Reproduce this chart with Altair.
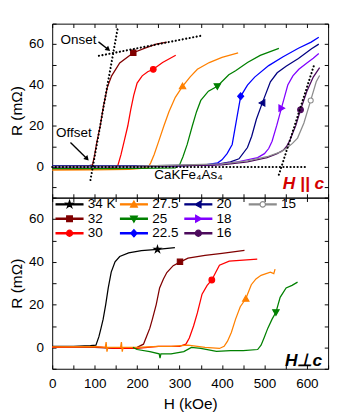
import altair as alt
import pandas as pd

# ---------------- data ----------------
TEMPS = ["34", "32", "30", "27.5", "25", "22.5", "20", "18", "16", "15"]
LEG_LABELS = ["34 K", "32", "30", "27.5", "25", "22.5", "20", "18", "16", "15"]
LEG_COLUMNS = [[0, 1, 2], [3, 4, 5], [6, 7, 8], [9]]   # legend entries per column
LINE_COLORS = ["#000000", "#800000", "#ff0000", "#ff8000", "#008000",
               "#0000ff", "#000080", "#8000ff", "#4c0a5c", "#8c8c8c"]
FILL_COLORS = ["#000000", "#800000", "#ff0000", "#ff8000", "#008000",
               "#0000ff", "#000080", "#8000ff", "#4c0a5c", "#ffffff"]

# ---- top panel: H || c ----
top_32_H = [0, 50, 85, 95, 100, 105, 113, 121, 130, 140, 159, 191, 220, 245, 270]
top_32_R = [0.3, 0.4, 0.5, 1, 6, 12, 20, 30, 39, 44.5, 50.8, 55.8, 58.2, 60, 61]
top_30_H = [0, 60, 120, 150, 155, 162, 170, 178, 185, 192, 200, 212, 225, 238, 260, 291]
top_30_R = [-1, -1.2, -0.8, -0.5, 1, 6, 13, 20, 28, 35, 41, 44.5, 46.5, 47.7, 51, 54.6]
top_27_H = [0, 100, 180, 225, 232, 240, 250, 263, 275, 290, 307, 325, 342, 370, 400, 438]
top_27_R = [-1.5, -1.4, -1.2, -0.5, 2, 6, 12, 20, 27, 34, 39.4, 44, 47.7, 51, 53.5, 55.7]
top_25_H = [0, 150, 250, 290, 300, 308, 318, 330, 340, 350, 368, 389, 416, 432, 460, 490, 534]
top_25_R = [-0.8, -0.8, -0.6, -0.5, 1, 5, 11, 20, 27, 32.5, 37, 39.4, 45, 47, 51, 54.5, 57.9]
top_22_H = [0, 150, 300, 360, 390, 400, 412, 424, 435, 444, 460, 477, 510, 544, 580, 610, 628]
top_22_R = [0.5, 0.4, 0.5, 1, 2, 3.5, 6.5, 11, 24, 34.5, 40, 43.9, 49.5, 53.8, 58, 61, 63.4]
top_20_H = [0, 200, 380, 420, 440, 460, 470, 481, 495, 514, 530, 551, 580, 611, 628]
top_20_R = [0.5, 0.5, 1, 2.5, 4, 9.5, 15, 23.3, 31.3, 41.6, 46, 49.2, 53, 57.7, 60]
top_18_H = [0, 200, 380, 432, 484, 500, 510, 518, 529, 540, 547, 555, 567, 581, 600, 615, 628]
top_18_R = [0, 0.2, 1, 2.3, 4.6, 6.5, 9, 12.6, 20.3, 28.7, 34, 40, 44.5, 47.7, 50.8, 53.1, 55.4]
top_16_H = [0, 200, 400, 460, 506, 530, 544, 552, 559, 574, 585, 600, 615, 630]
top_16_R = [0, 0.2, 1, 2.5, 4.6, 6.5, 8.1, 10, 12.6, 20.3, 27.9, 37, 43.9, 48.5]
top_15_H = [0, 200, 400, 460, 506, 540, 555, 566, 578, 593, 609, 622, 630]
top_15_R = [0.3, 0.4, 1.5, 3, 5, 7.5, 9.6, 11.5, 14.1, 21.5, 32.5, 41.6, 44.7]

top_marker_T = ["32", "30", "27.5", "25", "22.5", "20", "18", "16", "15"]
top_marker_H = [191, 238, 307, 389, 444, 495, 540, 585, 609]
top_marker_R = [55.8, 47.7, 39.4, 39.4, 34.5, 31.3, 28.7, 27.9, 32.5]

# ---- bottom panel: H perpendicular to c ----
bot_34_H = [0, 50, 90, 103, 110, 115, 120, 126, 132, 139, 148, 159, 180, 210, 248, 289]
bot_34_R = [0.5, 0.5, 0.8, 1, 5, 9, 13.2, 20, 27.8, 35.2, 40, 42.5, 44.2, 45.2, 45.8, 46.6]
bot_32_H = [0, 100, 150, 200, 215, 222, 230, 236, 245, 253, 262, 270, 285, 302, 320, 360, 400, 453]
bot_32_R = [0.2, 0, -0.5, 0, 1.5, 5, 9, 13.2, 20, 27.8, 32, 35, 38.2, 40, 41.7, 43, 44, 45.4]
bot_30_H = [0, 100, 150, 200, 250, 300, 315, 323, 333, 342, 353, 365, 376, 385, 394, 417, 450, 483]
bot_30_R = [0, 0.3, -0.5, -0.5, 0.5, 0.5, 1.5, 4.4, 10, 16.1, 24.9, 29, 31.5, 35, 38.4, 40.3, 40.8, 41.3]
bot_27_H = [0, 100, 125, 127, 129, 131, 161, 163, 165, 167, 200, 250, 280, 320, 360, 394, 405,
            413, 422, 432, 443, 456, 469, 480, 492, 514, 522, 525]
bot_27_R = [0.2, 0.3, 0, 2.5, -2, 0, 0, 2.5, -2, 0, 0, 0.5, 0.5, 1, 0, -0.5, 0.5,
            2.9, 7, 13.2, 19, 22.7, 29.3, 32, 33.7, 35.2, 34.5, 36.6]
bot_25_H = [190, 200, 230, 252, 254, 256, 280, 310, 328, 350, 387, 420, 450, 484, 492, 499,
            508, 518, 527, 537, 551, 565, 578]
bot_25_R = [0, -1, -2, -3, -5, -3, -3, -2, 0, -0.5, -1.9, -1.5, -1.5, -1, 1, 4.4,
            9, 13.2, 16.4, 23.4, 27.8, 29, 30.5]

bot_marker_T = ["34", "32", "30", "27.5", "25"]
bot_marker_H = [248, 301, 376, 456, 527]
bot_marker_R = [45.8, 40.0, 31.5, 22.7, 16.4]

# guide (fit) lines in the top panel
guide_id = ["onset", "onset", "steep32", "steep32", "offset", "offset", "steep16", "steep16"]
guide_H = [110, 353, 90, 154, 0, 598, 534, 616]
guide_R = [54.3, 64.2, -6.4, 67.5, 0, 0, -3.8, 49.2]

# annotation arrows (top panel)
arrow_id = ["onset", "onset", "offset", "offset"]
arrow_H = [109, 132, 43, 82]
arrow_R = [61.1, 57.4, 11.9, 4.0]
head_H = [132, 82]
head_R = [57.4, 4.0]
head_angle = [129, 137]

anno_text = ["Onset", "Offset", "CaKFe\u2084As\u2084"]
anno_H = [62, 51, 321]
anno_R = [61.8, 16.5, -4.2]

# ---------------- helpers ----------------
def long(series):
    rows = []
    for t, hs, rs in series:
        for h, r in zip(hs, rs):
            rows.append({"T": t, "H": h, "R": r})
    return pd.DataFrame(rows)

top_lines = long([("32", top_32_H, top_32_R), ("30", top_30_H, top_30_R),
                  ("27.5", top_27_H, top_27_R), ("25", top_25_H, top_25_R),
                  ("22.5", top_22_H, top_22_R), ("20", top_20_H, top_20_R),
                  ("18", top_18_H, top_18_R), ("16", top_16_H, top_16_R),
                  ("15", top_15_H, top_15_R)])
bot_lines = long([("34", bot_34_H, bot_34_R), ("32", bot_32_H, bot_32_R),
                  ("30", bot_30_H, bot_30_R), ("27.5", bot_27_H, bot_27_R),
                  ("25", bot_25_H, bot_25_R)])
top_marks = pd.DataFrame({"T": top_marker_T, "H": top_marker_H, "R": top_marker_R})
bot_marks = pd.DataFrame({"T": bot_marker_T, "H": bot_marker_H, "R": bot_marker_R})
guides = pd.DataFrame({"g": guide_id, "H": guide_H, "R": guide_R})
arrows = pd.DataFrame({"g": arrow_id, "H": arrow_H, "R": arrow_R})
heads = pd.DataFrame({"H": head_H, "R": head_R, "a": head_angle})
annos = pd.DataFrame({"text": anno_text, "H": anno_H, "R": anno_R})

STAR = ("M0,-1L0.223,-0.307L0.951,-0.309L0.361,0.117L0.588,0.809L0,0.38"
        "L-0.588,0.809L-0.361,0.117L-0.951,-0.309L-0.223,-0.307Z")
SQUARE = "M-0.75,-0.75H0.75V0.75H-0.75Z"
CIRCLE = "M-0.8,0A0.8,0.8 0 1,0 0.8,0A0.8,0.8 0 1,0 -0.8,0Z"
TUP = "M0,-0.9L0.9,0.7L-0.9,0.7Z"
TDOWN = "M0,0.9L0.9,-0.7L-0.9,-0.7Z"
DIAM = "M0,-0.95L0.85,0L0,0.95L-0.85,0Z"
TLEFT = "M-0.9,0L0.7,-0.9L0.7,0.9Z"
TRIGHT = "M0.9,0L-0.7,-0.9L-0.7,0.9Z"
OCIRC = "M-0.7,0A0.7,0.7 0 1,0 0.7,0A0.7,0.7 0 1,0 -0.7,0Z"
MARKERS = [STAR, SQUARE, CIRCLE, TUP, TDOWN, DIAM, TLEFT, TRIGHT, CIRCLE, OCIRC]

# legend symbols: a short line (thin filled bar) through the marker
BAR = "M-3.5,-0.16L3.5,-0.16L3.5,0.16L-3.5,0.16Z"
leg_shape = [BAR + m for m in MARKERS[:9]]
leg_shape.append("M-3.5,-0.12L-0.7,-0.12L-0.7,0.12L-3.5,0.12Z"
                 "M0.7,-0.12L3.5,-0.12L3.5,0.12L0.7,0.12Z" + OCIRC)

FONT = "Liberation Sans"
XS = alt.Scale(domain=[0, 650], nice=False, zero=False)
X_VALUES = list(range(0, 651, 50))
TK = 4


def x_axis(orient, labels, title=None):
    return alt.Axis(orient=orient, values=X_VALUES, labels=labels, tickSize=TK, offset=-TK,
                    domain=False, labelPadding=TK + 4, labelFlush=False, labelOverlap=False,
                    labelExpr="datum.value % 100 == 0 ? datum.label : ''",
                    title=title, titlePadding=6, grid=False)


def y_axis(orient, labels, values, title=None):
    return alt.Axis(orient=orient, values=values, labels=labels, tickSize=TK, offset=-TK,
                    domain=False, labelPadding=TK + 5, labelFlush=False, labelOverlap=False,
                    labelExpr="datum.value % 20 == 0 ? datum.label : ''",
                    title=title, titlePadding=4, grid=False)


def panel(lines, marks, ydom, yvals, height, bottom, extra_layers):
    YS = alt.Scale(domain=ydom, nice=False, zero=False)
    line_layer = alt.Chart(lines).mark_line(strokeWidth=1.3).encode(
        x=alt.X("H:Q", scale=XS, axis=x_axis("bottom", bottom, "H (kOe)" if bottom else None)),
        y=alt.Y("R:Q", scale=YS, axis=y_axis("left", True, yvals, "R (m\u03a9)")),
        color=alt.Color("T:N", scale=alt.Scale(domain=TEMPS, range=LINE_COLORS), legend=None),
        order=alt.Order("H:Q"),
    )
    mark_layer = alt.Chart(marks).mark_point(filled=True, size=56, opacity=1, strokeWidth=1.1).encode(
        x=alt.X("H:Q", scale=XS, axis=x_axis("top", False)),
        y=alt.Y("R:Q", scale=YS, axis=y_axis("right", False, yvals)),
        fill=alt.Fill("T:N", scale=alt.Scale(domain=TEMPS, range=FILL_COLORS), legend=None),
        stroke=alt.Stroke("T:N", scale=alt.Scale(domain=TEMPS, range=LINE_COLORS), legend=None),
        shape=alt.Shape("T:N", scale=alt.Scale(domain=TEMPS, range=MARKERS), legend=None),
    )
    layers = [line_layer, mark_layer]
    for l in extra_layers:
        made = l(YS)
        layers.extend(made if isinstance(made, list) else [made])
    return alt.layer(*layers).resolve_scale(
        fill="independent", stroke="independent", shape="independent"
    ).resolve_axis(x="independent", y="independent").properties(width=287, height=height)


def noax(YS):
    return (alt.X("H:Q", scale=XS, axis=None), alt.Y("R:Q", scale=YS, axis=None))


def guide_layer(YS):
    x, y = noax(YS)
    return alt.Chart(guides).mark_line(color="black", strokeWidth=2.2, strokeDash=[0.1, 3.6],
                                       strokeCap="round").encode(x=x, y=y, detail="g:N")


def arrow_layer(YS):
    x, y = noax(YS)
    return alt.Chart(arrows).mark_line(color="black", strokeWidth=1.4).encode(x=x, y=y, detail="g:N")


def head_layer(YS):
    x, y = noax(YS)
    return alt.Chart(heads).mark_point(shape="triangle-up", filled=True, color="black",
                                       size=34, opacity=1).encode(
        x=x, y=y, angle=alt.Angle("a:Q", scale=None))


def anno_layer(YS):
    x, y = noax(YS)
    return alt.Chart(annos).mark_text(font=FONT, fontSize=14, color="black").encode(
        x=x, y=y, text="text:N")


def hc_layer(YS):
    x, y = noax(YS)
    return alt.Chart(pd.DataFrame({"H": [592], "R": [-8.5], "t": ["H || c"]})).mark_text(
        font=FONT, fontSize=18, fontWeight="bold", fontStyle="italic", color="#d40000"
    ).encode(x=x, y=y, text="t:N")


def hperp_layer(YS):
    x, y = noax(YS)
    return alt.Chart(pd.DataFrame({"H": [592], "R": [-6.5], "t": ["H\u22a5c"]})).mark_text(
        font=FONT, fontSize=18, fontWeight="bold", fontStyle="italic", color="black"
    ).encode(x=x, y=y, text="t:N")


def legend_layers(YS):
    out = []
    for c, idx in enumerate(LEG_COLUMNS):
        labels = [LEG_LABELS[i] for i in idx]
        field = "L%d" % c
        df = pd.DataFrame({field: labels})
        out.append(alt.Chart(df).transform_filter("false").mark_point(
            filled=True, opacity=1, size=64).encode(
            fill=alt.Fill(field + ":N", scale=alt.Scale(domain=labels, range=[FILL_COLORS[i] for i in idx]),
                          legend=alt.Legend(
                              orient="none", legendX=11 + 67 * c, legendY=0, direction="vertical",
                              title=None, padding=0, labelFont=FONT, labelFontSize=14,
                              labelColor="black", labelOffset=12, symbolSize=64,
                              symbolStrokeWidth=1.2, rowPadding=1, symbolOpacity=1)),
            stroke=alt.Stroke(field + ":N", scale=alt.Scale(domain=labels, range=[LINE_COLORS[i] for i in idx])),
            shape=alt.Shape(field + ":N", scale=alt.Scale(domain=labels, range=[leg_shape[i] for i in idx])),
        ))
    return out


top = panel(top_lines, top_marks, [-15, 70], list(range(-10, 71, 10)), 181, False,
            [guide_layer, arrow_layer, head_layer, anno_layer, hc_layer])
bottom = panel(bot_lines, bot_marks, [-10, 70], list(range(-10, 71, 10)), 178, True,
               [hperp_layer, legend_layers])

chart = alt.VConcatChart(vconcat=[top, bottom], spacing=0, bounds="flush").properties(
    padding={"left": 0, "top": 0, "right": 2, "bottom": 0}
).configure_concat(spacing=0).configure_view(stroke="black", strokeWidth=1).configure_axis(
    labelFont=FONT, titleFont=FONT, labelFontSize=14, titleFontSize=16,
    titleFontWeight="normal", labelColor="black", titleColor="black", tickColor="black",
    tickWidth=1
)

chart.save("out.html", embed_options={"renderer": "svg", "actions": False})
